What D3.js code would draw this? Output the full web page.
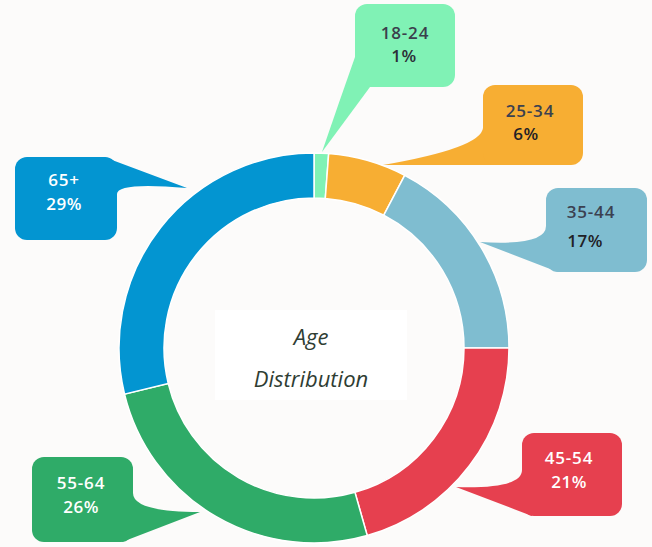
<!DOCTYPE html>
<html>
<head>
<meta charset="utf-8">
<script src="https://cdn.jsdelivr.net/npm/d3@7"></script>
<style>
  body { margin: 0; background: #fcfbfa; }
  svg { display: block; }
</style>
</head>
<body>
<svg id="chart"></svg>
<script>
// age groups, slice sizes (share of people) and the printed percentages
const groups = ["18-24", "25-34", "35-44", "45-54", "55-64", "65+"];
const shares = [1.2, 6.5, 17.3, 20.6, 25.6, 28.8];
const pctLabels = ["1%", "6%", "17%", "21%", "26%", "29%"];
const colors = ["#80f2b5", "#f7ae33", "#7fbdd0", "#e6404f", "#2fab68", "#0395d1"];
const titleLines = ["Age", "Distribution"];

const width = 652, height = 547;
const cx = 314, cy = 348;
const outerR = 195, innerR = 150;

// callout boxes: box, tail (a -> curve via c -> tip -> straight to b), text spots
const callouts = [
  {box: [355, 4, 100, 83], a: [355, 57], c: [338, 105], tip: [322, 152], b: [370, 87],
   t1: [405, 39], t2: [404, 62], fill1: "#3b3f4c", fill2: "#2c2f38"},
  {box: [483, 85, 100, 80], a: [483, 128], c: [481, 148], tip: [383, 165], b: [495, 165],
   t1: [530, 117], t2: [526, 140], fill1: "#3b4150", fill2: "#1f2126"},
  {box: [546, 188, 101, 84], a: [546, 226], c: [546, 246], tip: [480, 242], b: [558, 272],
   t1: [591, 218], t2: [585, 247], fill1: "#3b4150", fill2: "#1f2126"},
  {box: [522, 433, 100, 83], a: [522, 470], c: [522, 489], tip: [456, 487], b: [532, 516],
   t1: [569, 464], t2: [569, 488], fill1: "#fff", fill2: "#fff"},
  {box: [32, 457, 101, 85], a: [133, 493], c: [133, 512], tip: [200, 512], b: [122, 542],
   t1: [81, 489], t2: [81, 513], fill1: "#fff", fill2: "#fff"},
  {box: [15, 157, 102, 83], a: [117, 194], c: [117, 182], tip: [187, 188], b: [104, 157],
   t1: [64, 186], t2: [64, 210], fill1: "#fff", fill2: "#fff"}
];

const svg = d3.select("#chart")
    .attr("width", width)
    .attr("height", height);

svg.append("rect")
    .attr("width", width)
    .attr("height", height)
    .attr("fill", "#fcfbfa");

const pie = d3.pie().sort(null).value(d => d);
const arc = d3.arc().innerRadius(innerR).outerRadius(outerR);

const color = d3.scaleOrdinal().domain(groups).range(colors);

const ring = svg.append("g")
    .attr("transform", `translate(${cx},${cy})`);

ring.selectAll("path")
  .data(pie(shares))
  .join("path")
    .attr("d", arc)
    .attr("fill", (d, i) => color(groups[i]))
    .attr("stroke", "#fff")
    .attr("stroke-width", 1.5);

// center label box
svg.append("rect")
    .attr("x", 215).attr("y", 310)
    .attr("width", 192).attr("height", 90)
    .attr("fill", "#fff");

svg.append("g")
    .selectAll("text")
    .data(titleLines)
    .join("text")
      .attr("x", 311)
      .attr("y", (d, i) => 345 + i * 42)
      .attr("text-anchor", "middle")
      .attr("font-family", "'Open Sans', sans-serif")
      .attr("font-style", "italic")
      .attr("font-size", 22)
      .attr("fill", "#2f3d33")
      .text(d => d);

// callouts
const co = svg.append("g")
  .selectAll("g")
  .data(groups)
  .join("g");

co.append("path")
    .attr("d", (d, i) => {
      const k = callouts[i];
      return `M${k.a}Q${k.c} ${k.tip}L${k.b}Z`;
    })
    .attr("fill", (d, i) => color(groups[i]));

co.append("rect")
    .attr("x", (d, i) => callouts[i].box[0])
    .attr("y", (d, i) => callouts[i].box[1])
    .attr("width", (d, i) => callouts[i].box[2])
    .attr("height", (d, i) => callouts[i].box[3])
    .attr("rx", 12)
    .attr("fill", (d, i) => color(groups[i]));

co.append("text")
    .attr("x", (d, i) => callouts[i].t1[0])
    .attr("y", (d, i) => callouts[i].t1[1])
    .attr("text-anchor", "middle")
    .attr("font-family", "'Open Sans', sans-serif")
    .attr("font-weight", 600)
    .attr("font-size", 17)
    .attr("letter-spacing", 0.8)
    .attr("fill", (d, i) => callouts[i].fill1)
    .text(d => d);

co.append("text")
    .attr("x", (d, i) => callouts[i].t2[0])
    .attr("y", (d, i) => callouts[i].t2[1])
    .attr("text-anchor", "middle")
    .attr("font-family", "'Open Sans', sans-serif")
    .attr("font-weight", 600)
    .attr("font-size", 17)
    .attr("letter-spacing", 0.5)
    .attr("fill", (d, i) => callouts[i].fill2)
    .text((d, i) => pctLabels[i]);
</script>
</body>
</html>
